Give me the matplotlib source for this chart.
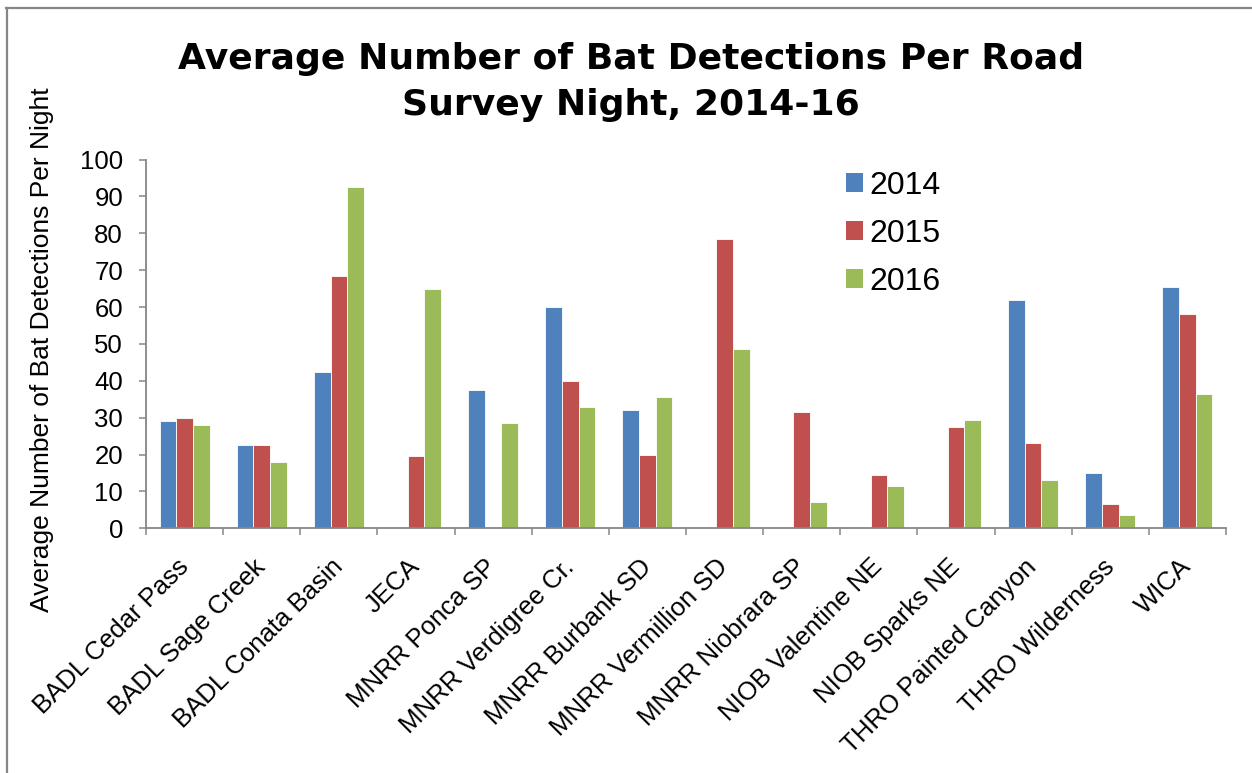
import numpy as np
import matplotlib
matplotlib.use("Agg")
import matplotlib.pyplot as plt
from matplotlib.lines import Line2D
from matplotlib.patches import Patch

# Survey sites (x categories)
sites = [
    "BADL Cedar Pass", "BADL Sage Creek", "BADL Conata Basin", "JECA",
    "MNRR Ponca SP", "MNRR Verdigree Cr.", "MNRR Burbank SD",
    "MNRR Vermillion SD", "MNRR Niobrara SP", "NIOB Valentine NE",
    "NIOB Sparks NE", "THRO Painted Canyon", "THRO Wilderness", "WICA",
]
years = ["2014", "2015", "2016"]

# Average detections per survey night (nan = site not surveyed that year)
det_2014 = [29, 22.5, 42.5, np.nan, 37.5, 60, 32, np.nan, np.nan, np.nan, np.nan, 62, 15, 65.5]
det_2015 = [30, 22.5, 68.5, 19.5, np.nan, 40, 20, 78.5, 31.5, 14.5, 27.5, 23, 6.5, 58]
det_2016 = [28, 18, 92.5, 65, 28.5, 33, 35.5, 48.5, 7, 11.5, 29.5, 13, 3.5, 36.5]

y_ticks = list(range(0, 101, 10))
colors = ["#4F81BD", "#C0504D", "#9BBB59"]
axis_grey = "#868686"

plt.rcParams["font.family"] = ["Liberation Sans", "DejaVu Sans"]

W, H = 1252, 773
fig = plt.figure(figsize=(W / 100, H / 100), dpi=100)
fig.patch.set_facecolor("white")

ax = fig.add_axes([146 / W, 1 - 528.3 / H, (1226 - 146) / W, (528.3 - 159.5) / H])

x = np.arange(len(sites))
bw = 0.216
for i, (vals, col) in enumerate(zip([det_2014, det_2015, det_2016], colors)):
    ax.bar(x + (i - 1) * bw, vals, width=bw, color=col, edgecolor="white",
           linewidth=0.6, label=years[i], zorder=2)

ax.set_xlim(-0.5, len(sites) - 0.5)
ax.set_ylim(0, 100)
ax.set_yticks(y_ticks)
ax.set_yticklabels([str(t) for t in y_ticks], fontsize=18.5)

ax.set_xticks(x)
ax.set_xticklabels(sites, fontsize=18.5, rotation=45, ha="right", va="center",
                   rotation_mode="anchor")
ax.set_xticks(np.arange(-0.5, len(sites), 1), minor=True)
ax.tick_params(axis="x", which="major", length=0, pad=25)
ax.tick_params(axis="x", which="minor", length=5, width=1.1, color=axis_grey,
               direction="out")
ax.tick_params(axis="y", length=5, width=1.1, color=axis_grey, direction="out",
               pad=11.5)

for side in ["top", "right"]:
    ax.spines[side].set_visible(False)
for side in ["left", "bottom"]:
    ax.spines[side].set_color(axis_grey)
    ax.spines[side].set_linewidth(1.3)

# Legend
handles = [Patch(facecolor=c, edgecolor="none") for c in colors]
fig.legend(handles, years, loc="upper left",
           bbox_to_anchor=(846 / W, 1 - 171 / H), frameon=False,
           fontsize=23, handlelength=0.53, handleheight=0.53,
           handletextpad=0.2, labelspacing=0.56, borderpad=0, borderaxespad=0)

# Title and axis label
title_font = dict(ha="center", va="baseline", fontsize=26, fontweight="bold",
                  family=["DejaVu Sans"])
fig.text(0.504, 1 - 69 / H, "Average Number of Bat Detections Per Road", **title_font)
fig.text(0.504, 1 - 115 / H, "Survey Night, 2014-16", **title_font)
fig.text(42 / W, 1 - 350 / H, "Average Number of Bat Detections Per Night",
         rotation=90, ha="center", va="center", fontsize=19)

# Chart-area frame
fig.add_artist(Line2D([6 / W, 1], [1 - 8 / H, 1 - 8 / H], color=axis_grey, lw=1.6,
                      transform=fig.transFigure))
fig.add_artist(Line2D([7 / W, 7 / W], [0, 1 - 8 / H], color=axis_grey, lw=1.6,
                      transform=fig.transFigure))

fig.savefig("out.png", dpi=100)
